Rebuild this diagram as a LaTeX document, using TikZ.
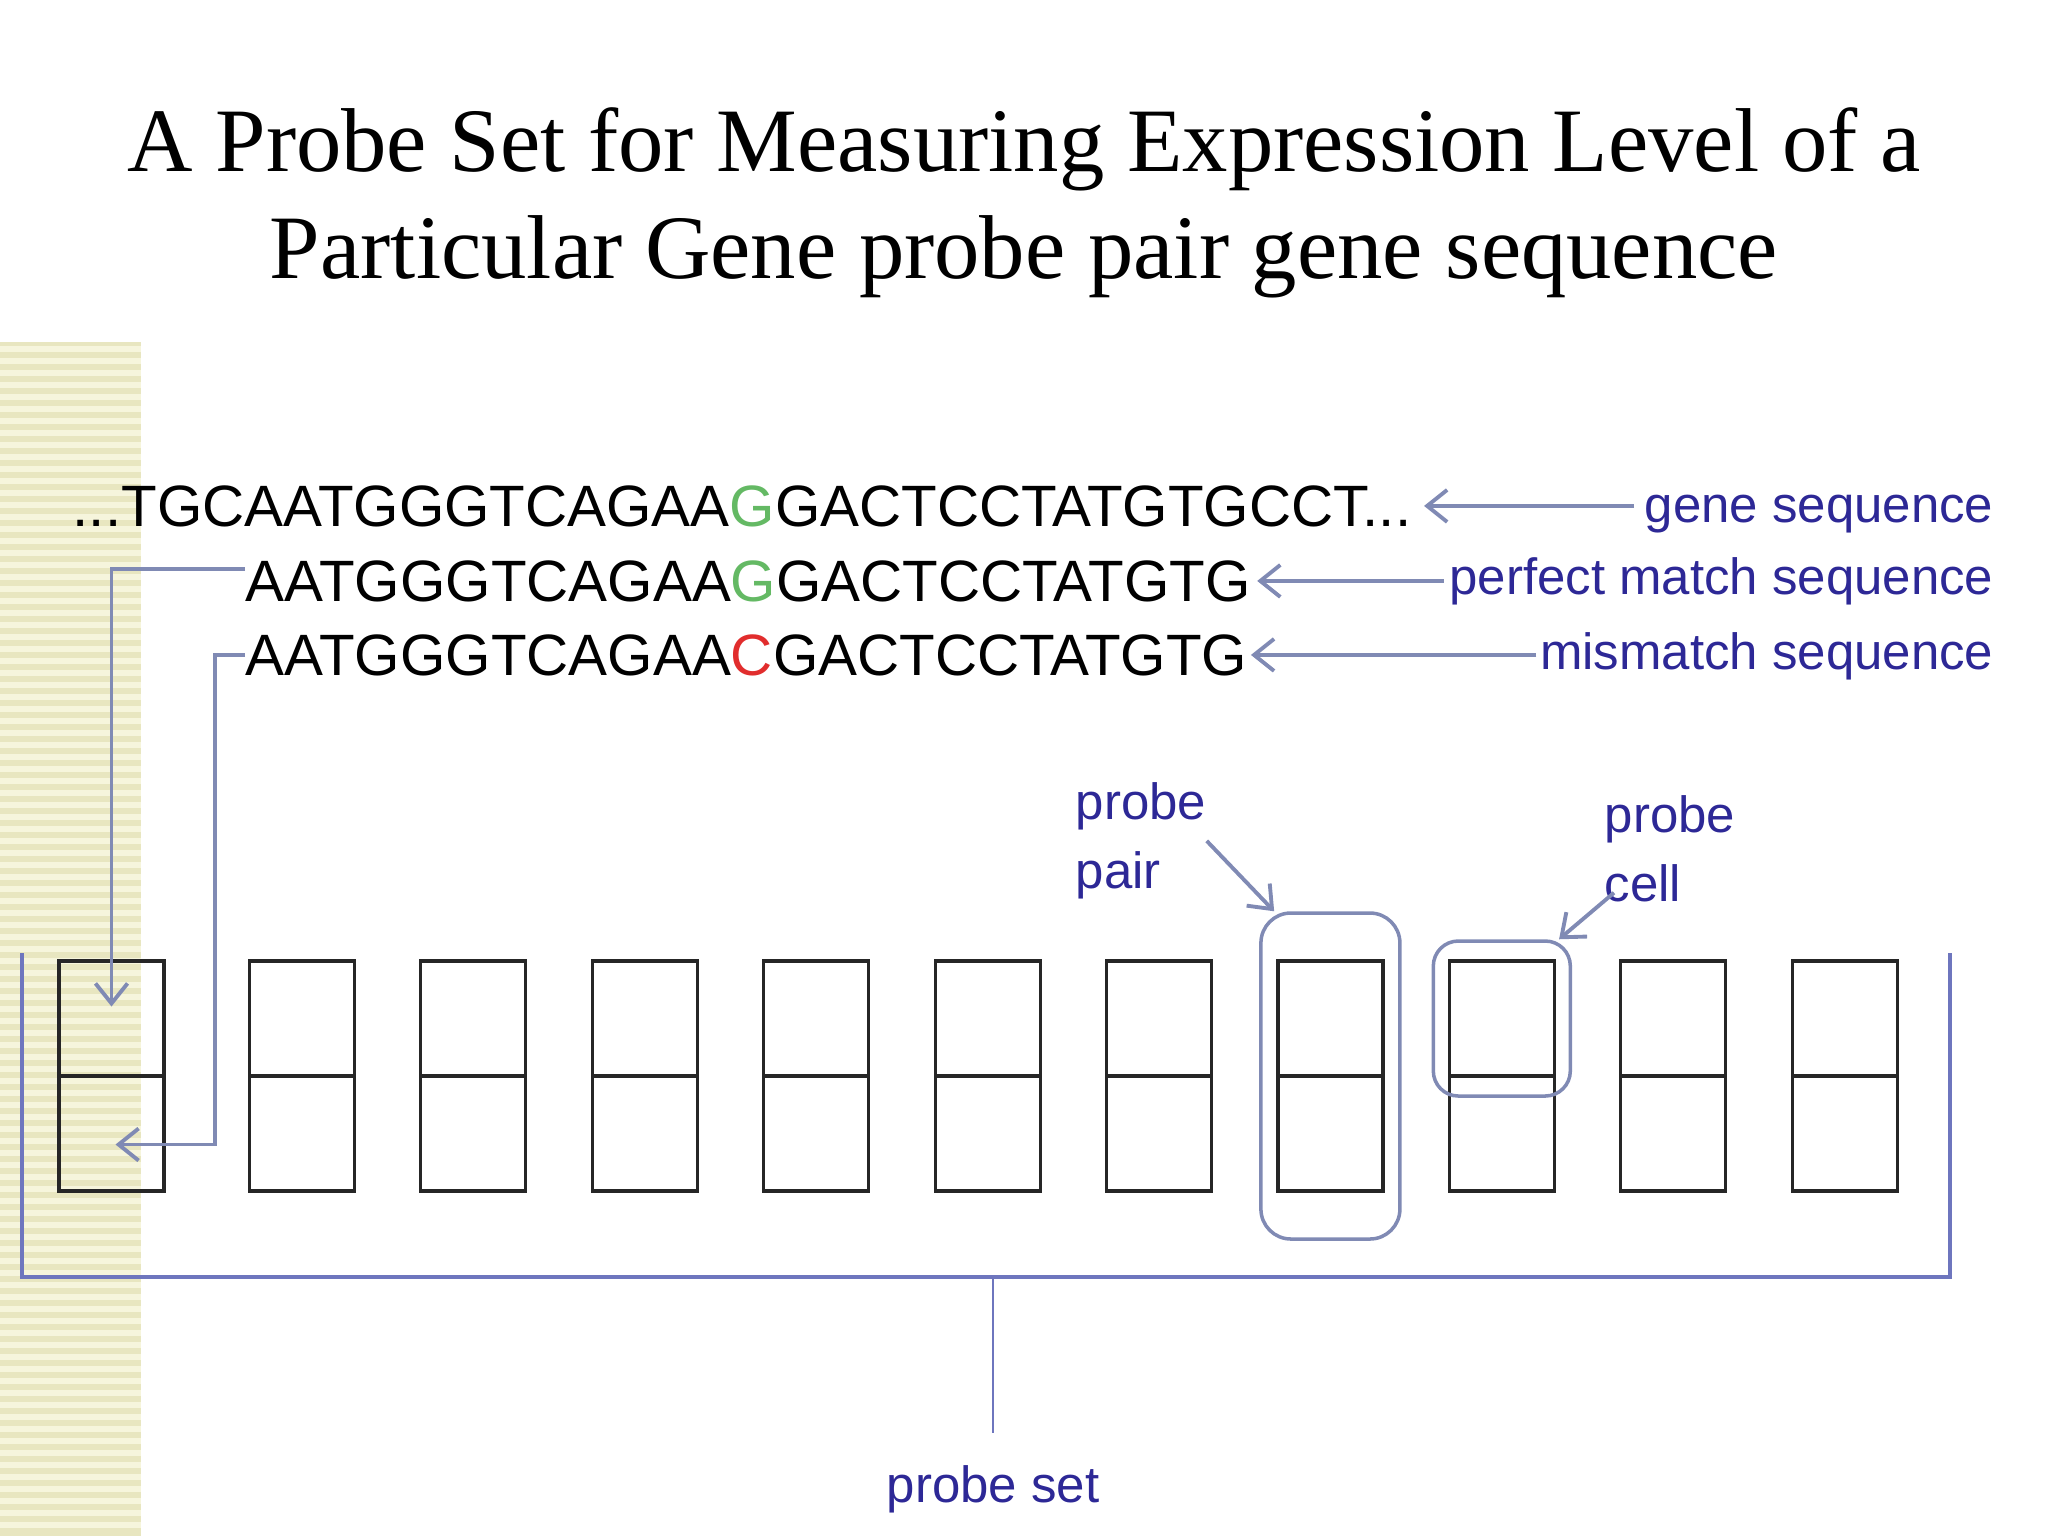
\documentclass[tikz,border=0pt]{standalone}
\usepackage{fontspec}
\setmainfont{Liberation Serif}
\newfontfamily\seqfont{Liberation Sans}
\usetikzlibrary{arrows.meta, positioning, fit}
\definecolor{labelblue}{RGB}{45,40,150}
\definecolor{linkgray}{RGB}{128,138,180}
\definecolor{setblue}{RGB}{110,118,190}
\definecolor{stripedark}{RGB}{232,230,192}
\definecolor{stripelight}{RGB}{246,245,220}
\definecolor{seqgreen}{RGB}{100,185,100}
\definecolor{seqred}{RGB}{225,45,45}

\begin{document}
\begin{tikzpicture}[
    x=0.1mm, y=-0.1mm,
    seqtext/.style={inner sep=0, anchor=base west, font=\seqfont\fontsize{16.6}{19}\selectfont},
    tag/.style={inner sep=0, text=labelblue, font=\seqfont\fontsize{14.5}{19.6}\selectfont},
    cell/.style={draw=black!85, line width=0.9pt, minimum width=1.05cm, minimum height=1.15cm, inner sep=0, outer sep=0},
    ring/.style={draw=linkgray, line width=1pt, rounded corners=3mm, inner sep=0},
    link/.style={-{Straight Barb[length=2mm, width=3.2mm]}, draw=linkgray, line width=1.1pt},
    bracket/.style={draw=setblue, line width=0.9pt}
]
    \useasboundingbox (0,0) rectangle (2048,1536);
    % striped band on the left
    \fill[stripedark] (0,342) rectangle (141,1536);
    \foreach \y in {346,358,...,1530}
        \fill[stripelight] (0,\y) rectangle (141,\y+6);

    % title
    \node[anchor=north, inner sep=0, align=center, font=\fontsize{25.8}{30.4}\selectfont] (title) at (1024,107)
        {A Probe Set for Measuring Expression Level of a\\Particular Gene probe pair gene sequence};

    % sequences
    \node[seqtext] (seq1) at (72,526) {...TGCAATGGGTCAGAA\textcolor{seqgreen}{G}GACTCCTATGTGCCT...};
    \node[seqtext] (seq2) at (245,601) {AATGGGTCAGAA\textcolor{seqgreen}{G}GACTCCTATGTG};
    \node[seqtext] (seq3) at (245,675) {AATGGGTCAGAA\textcolor{seqred}{C}GACTCCTATGTG};

    \node[tag, anchor=base east] (gene) at (1994,522) {gene sequence};
    \node[tag, anchor=base east] (pm) at (1994,594) {perfect match sequence};
    \node[tag, anchor=base east] (mm) at (1994,669) {mismatch sequence};

    \draw[link] ([xshift=-1mm]gene.west |- seq1.east) -- ([xshift=1.2mm]seq1.east);
    \draw[link] ([xshift=-0.5mm]pm.west |- seq2.east) -- ([xshift=0.6mm]seq2.east);
    \draw[link] ([xshift=-0.3mm]mm.west |- seq3.east) -- ([xshift=0.3mm]seq3.east);

    % probe pairs
    \node[cell] (pm1) at (111.5,1018.5) {};
    \node[cell, below=0pt of pm1] (mm1) {};
    \foreach \i in {2,...,11} {
        \node[cell] (pm\i) at ({302+(\i-2)*171.4},1018.5) {};
        \node[cell, below=0pt of pm\i] (mm\i) {};
    }

    \node[ring, fit=(pm8)(mm8), inner xsep=1.7mm, inner ysep=4.8mm] (pairbox) {};
    \node[ring, fit=(pm9), inner xsep=1.6mm, inner ysep=2mm, rounded corners=2.5mm] (cellbox) {};

    \node[tag, anchor=north west, align=left] (pairtag) at (1075,782) {probe\\pair};
    \node[tag, anchor=north west, align=left] (celltag) at (1604,795) {probe\\cell};
    \draw[link] (pairtag.east) -- ([xshift=1.5mm]pairbox.north west);
    \draw[link] ([xshift=1mm, yshift=1mm]celltag.south west) -- ([xshift=-1.3mm]cellbox.north east);

    % connectors into the first pair
    \draw[link] ([yshift=1.2mm]seq2.west) -| ([yshift=1.2mm]pm1.center);
    \draw[link] (seq3.west) -- ++(-3mm,0) |- ([xshift=0.4mm, yshift=-1.1mm]mm1.center);

    % probe set bracket
    \coordinate (setL) at (22,953);
    \coordinate (setR) at (1950,953);
    \coordinate (setB) at (993,1277);
    \draw[bracket] (setL) |- (setB) -| (setR);
    \node[tag, anchor=base] (settag) at (993,1502) {probe set};
    \draw[draw=setblue, line width=0.6pt] (setB) -- ([yshift=3.1mm]settag.north);
\end{tikzpicture}
\end{document}
